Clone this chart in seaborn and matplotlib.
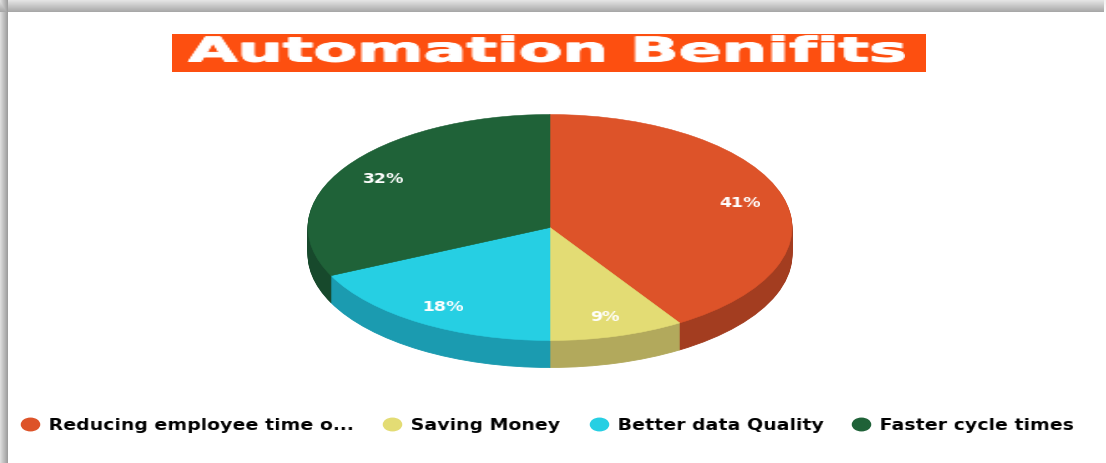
import numpy as np
import matplotlib
matplotlib.use("Agg")
import matplotlib.pyplot as plt
import matplotlib.patheffects as pe
from matplotlib.lines import Line2D
from matplotlib.markers import MarkerStyle
from matplotlib.patches import Rectangle
from matplotlib.transforms import Affine2D
import seaborn as sns

TITLE = "Automation Benifits"
CATEGORIES = ["Reducing employee time o...", "Saving Money", "Better data Quality", "Faster cycle times"]
VALUES = [41, 9, 18, 32]
TOP_COLORS = ["#dd5329", "#e3dc74", "#26cfe3", "#1f6238"]
SIDE_COLORS = ["#a33d20", "#b2a95c", "#1b9bb0", "#17492c"]

W, H = 1106, 464
CX, CY, RX, RY, DEPTH = 550, 228.5, 242, 113, 27
LEGEND_LEFT = [19.3, 381.3, 588.3, 850.3]

sns.set_theme(style="white")
plt.rcParams["font.family"] = ["DejaVu Sans"]


def stretch(factor, centred=True):
    """Widen rendered text horizontally."""
    def apply(img, dpi):
        h, w = img.shape[:2]
        nw = int(round(w * factor))
        xs = np.linspace(0, w - 1, nw)
        out = np.empty((h, nw, img.shape[2]), dtype=float)
        for r in range(h):
            for c in range(img.shape[2]):
                out[r, :, c] = np.interp(xs, np.arange(w), img[r, :, c])
        return out, (-(nw - w) // 2 if centred else 0), 0
    return apply


fig = plt.figure(figsize=(W / 100, H / 100), dpi=100, facecolor="white")

# window-shadow frame
bg = fig.add_axes([0, 0, 1, 1], zorder=0)
frame = np.ones((H, W))
top_band = np.linspace(0.91, 0.66, 13)
left_band = np.linspace(0.86, 0.62, 8)
frame[:13, :1104] = top_band[:, None]
frame[:, :8] = np.minimum(frame[:, :8], left_band[None, :])
frame[:13, 1104:] = np.linspace(0.94, 0.99, 13)[:, None]
bg.imshow(frame, cmap="gray", vmin=0, vmax=1, aspect="auto", interpolation="bilinear")
bg.axis("off")

# title banner
fig.add_artist(Rectangle((172 / W, 1 - 73 / H), 754 / W, 38 / H, transform=fig.transFigure,
                         facecolor="#fd4f10", edgecolor="none", zorder=2))
fig.text(547 / W, 1 - 53 / H, TITLE, color="white", fontsize=24.5, fontweight="bold",
         ha="center", va="center", zorder=3, agg_filter=stretch(1.87),
         path_effects=[pe.withStroke(linewidth=0.7, foreground="white")])

# pie, in an axes whose units are the ellipse radii
ax = fig.add_axes([0, 0, 1, 1], zorder=1)
ax.patch.set_alpha(0)
for d in np.arange(DEPTH, 0, -1):
    side, _ = ax.pie(VALUES, colors=SIDE_COLORS, startangle=90, counterclock=False,
                     center=(0, -d / RY), wedgeprops={"linewidth": 0.6})
    for w in side:
        w.set_edgecolor(w.get_facecolor())
wedges, _, autotexts = ax.pie(
    VALUES, colors=TOP_COLORS, startangle=90, counterclock=False,
    autopct="%d%%", pctdistance=0.82,
    wedgeprops={"linewidth": 0.4},
    textprops={"color": "white", "fontsize": 10, "fontweight": "bold"})
for w in wedges:
    w.set_edgecolor(w.get_facecolor())
for t in autotexts:
    t.set_agg_filter(stretch(1.25))
ax.set_aspect("auto")
ax.set_xlim(-CX / RX, (W - CX) / RX)
ax.set_ylim((CY - H) / RY, CY / RY)
ax.axis("off")

# legend, one entry per slice
oval = MarkerStyle("o", transform=Affine2D().scale(1.45, 1))
for label, color, left in zip(CATEGORIES, TOP_COLORS, LEGEND_LEFT):
    handle = Line2D([], [], linestyle="none", marker=oval, markersize=9,
                    markerfacecolor=color, markeredgecolor=color)
    leg = fig.legend([handle], [label], loc="center left",
                     bbox_to_anchor=(left / W, 1 - 425.5 / H),
                     frameon=False, handletextpad=0.56, handlelength=1.4,
                     borderpad=0, borderaxespad=0, labelcolor="black",
                     prop={"family": "DejaVu Sans", "weight": "bold", "size": 11})
    leg.get_texts()[0].set_agg_filter(stretch(1.245, centred=False))

fig.savefig("out.png", dpi=100)
